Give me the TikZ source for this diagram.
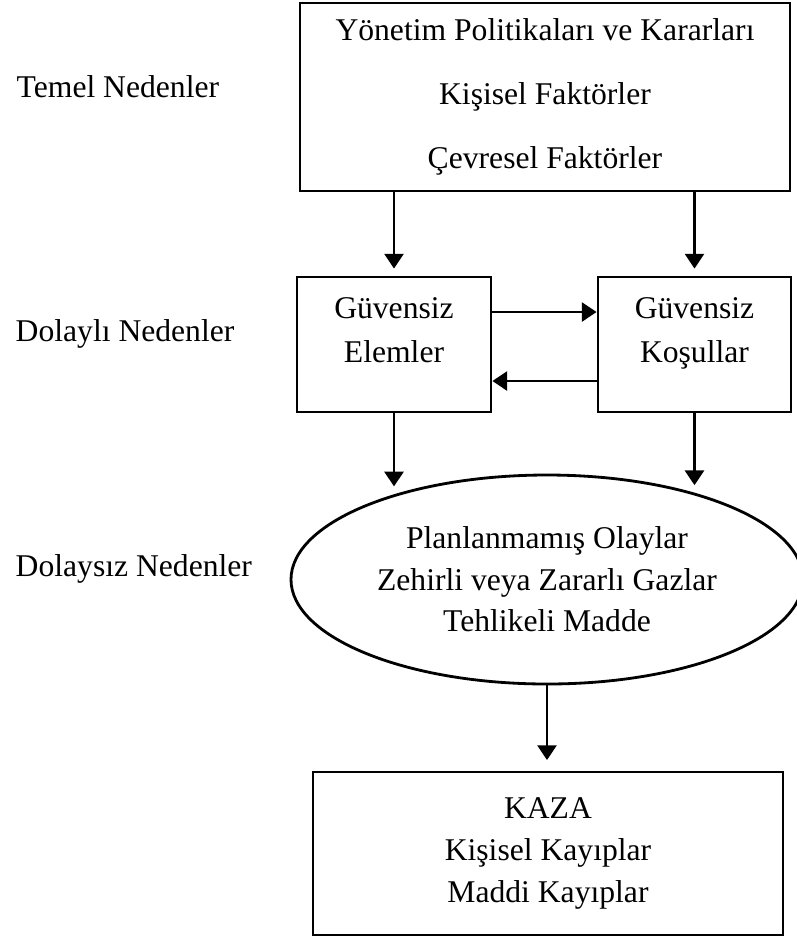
\documentclass[tikz,border=0pt]{standalone}
\usepackage{fontspec}
\setmainfont{Liberation Serif}
\usetikzlibrary{shapes.geometric,arrows.meta}

\tikzset{
  kutu/.style={draw,thick,align=center,inner sep=0pt,font=\fontsize{9}{12.5}\selectfont},
  ok/.style={thick,-{Triangle[length=4.2pt,width=5.4pt]}},
  etiket/.style={anchor=base west,inner sep=0pt,font=\fontsize{9}{11}\selectfont}
}

\begin{document}
\begin{tikzpicture}
            \useasboundingbox (0,0) rectangle (7.97,-9.40);
            \node[etiket] (temel) at (0.16,-0.97) {Temel Nedenler};
            \node[etiket] (dolayli) at (0.15,-3.41) {Dolaylı Nedenler};
            \node[etiket] (dolaysiz) at (0.15,-5.76) {Dolaysız Nedenler};
            \node[kutu,minimum width=4.90cm,minimum height=1.88cm,font=\fontsize{9}{18.2}\selectfont] (yonetim) at (5.45,-0.97) {Yönetim Politikaları ve Kararları\\Kişisel Faktörler\\Çevresel Faktörler};
            \node[kutu,minimum width=1.94cm,minimum height=1.35cm,text depth=0.29cm] (elemler) at (3.94,-3.445) {Güvensiz\\Elemler};
            \node[kutu,minimum width=1.93cm,minimum height=1.35cm,text depth=0.29cm] (kosullar) at (6.945,-3.445) {Güvensiz\\Koşullar};
            \node[kutu,ellipse,minimum width=5.12cm,minimum height=2.09cm,font=\fontsize{9}{11.8}\selectfont] (olaylar) at (5.47,-5.795) {Planlanmamış Olaylar\\Zehirli veya Zararlı Gazlar\\Tehlikeli Madde};
            \node[kutu,minimum width=4.70cm,minimum height=1.63cm,font=\fontsize{9}{12}\selectfont] (kaza) at (5.48,-8.535) {KAZA\\Kişisel Kayıplar\\Maddi Kayıplar};
            \draw[ok,shorten >=2pt] (elemler.north |- yonetim.south) -- (elemler.north);
            \draw[ok,shorten >=2pt] (kosullar.north |- yonetim.south) -- (kosullar.north);
            \draw[ok] ([yshift=0.325cm]elemler.east) -- ([yshift=0.325cm]elemler.east -| kosullar.west);
            \draw[ok] ([yshift=-0.365cm]kosullar.west) -- ([yshift=-0.365cm]kosullar.west -| elemler.east);
            \draw[ok,shorten >=2.3pt] (elemler.south) -- (elemler.south |- olaylar.151);
            \draw[ok,shorten >=2.3pt] (kosullar.south) -- (kosullar.south |- olaylar.30);
            \draw[ok,shorten >=3pt] (olaylar.south) -- (olaylar.south |- kaza.north);
        \end{tikzpicture}
\end{document}
